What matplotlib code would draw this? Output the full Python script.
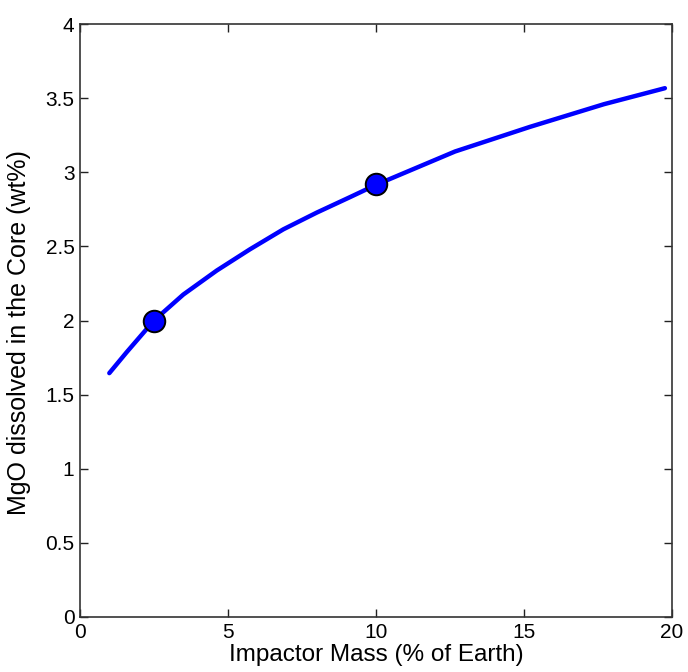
import matplotlib
matplotlib.use("Agg")
import matplotlib.pyplot as plt

plt.rcParams['font.family'] = ['Liberation Sans', 'DejaVu Sans']

# Curve
curve_x = [0.99, 1.58, 2.5, 3.49, 4.62, 5.74, 6.87, 8.0, 9.12, 10.0, 12.67, 15.2, 17.7, 19.76]
curve_y = [1.645, 1.787, 2.0, 2.175, 2.337, 2.48, 2.615, 2.728, 2.832, 2.915, 3.14, 3.306, 3.459, 3.567]

# Highlighted points
point_x = [2.5, 10.0]
point_y = [2.0, 2.92]

x_ticks = [0, 5, 10, 15, 20]
y_ticks = [0, 0.5, 1, 1.5, 2, 2.5, 3, 3.5, 4]
y_tick_labels = ['0', '0.5', '1', '1.5', '2', '2.5', '3', '3.5', '4']

fig = plt.figure(figsize=(6.88, 6.72), dpi=100)
ax = fig.add_axes([80/688, 55/672, 592/688, 593/672])

ax.plot(curve_x, curve_y, color='#0000ff', lw=3.2, solid_capstyle='round',
        solid_joinstyle='round', zorder=2)
ax.plot(point_x, point_y, 'o', ms=15.5, mfc='#0000ff', mec='black', mew=1.4, ls='none', zorder=3)

ax.set_xlim(0, 20)
ax.set_ylim(0, 4)
ax.set_xticks(x_ticks)
ax.set_yticks(y_ticks)
ax.set_yticklabels(y_tick_labels)
ax.tick_params(direction='in', top=True, right=True, length=6, width=1, labelsize=15,
               colors='#222222', labelcolor='black', pad=4)
for s in ax.spines.values():
    s.set_linewidth(1.2)
    s.set_color('#333333')

ax.set_xlabel('Impactor Mass (% of Earth)', fontsize=17.5, labelpad=2)
ax.set_ylabel('MgO dissolved in the Core (wt%)', fontsize=18)
ax.yaxis.set_label_coords(-0.083, 0.48)

fig.savefig('out.png', dpi=100)
